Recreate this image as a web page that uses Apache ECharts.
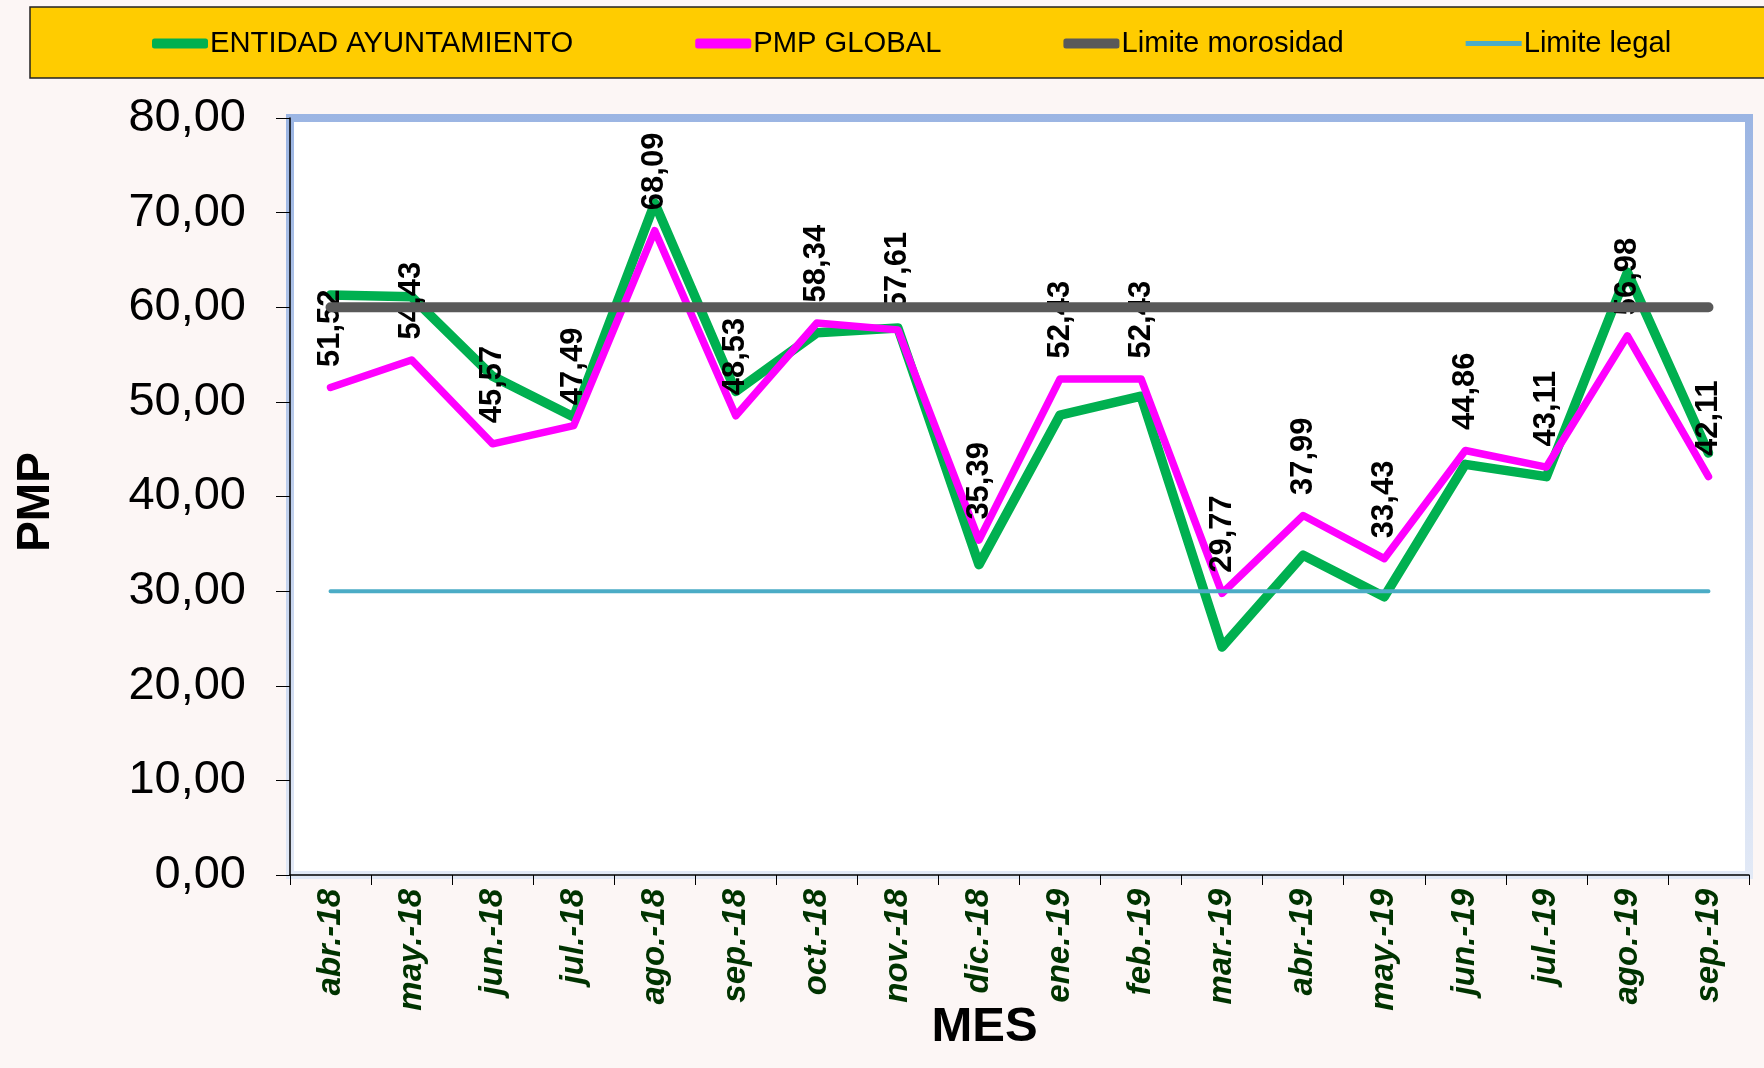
<!DOCTYPE html>
<html>
<head>
<meta charset="utf-8">
<style>
  html, body { margin: 0; padding: 0; background: #fcf6f5; }
  #chart { width: 1764px; height: 1068px; }
</style>
<script src="https://cdn.jsdelivr.net/npm/echarts@6/dist/echarts.min.js"></script>
</head>
<body>
<div id="chart"></div>
<script>
var months = ['abr.-18', 'may.-18', 'jun.-18', 'jul.-18', 'ago.-18', 'sep.-18', 'oct.-18', 'nov.-18', 'dic.-18',
  'ene.-19', 'feb.-19', 'mar.-19', 'abr.-19', 'may.-19', 'jun.-19', 'jul.-19', 'ago.-19', 'sep.-19'];

var entidad = [61.3, 61.1, 52.7, 48.4, 71.0, 51.1, 57.3, 57.8, 32.8, 48.6, 50.6, 24.1, 33.8, 29.4, 43.4, 42.1, 63.7, 44.6];
var pmpGlobal = [51.52, 54.43, 45.57, 47.49, 68.09, 48.53, 58.34, 57.61, 35.39, 52.43, 52.43, 29.77, 37.99, 33.43, 44.86, 43.11, 56.98, 42.11];
var limiteMorosidad = [60, 60, 60, 60, 60, 60, 60, 60, 60, 60, 60, 60, 60, 60, 60, 60, 60, 60];
var limiteLegal = [30, 30, 30, 30, 30, 30, 30, 30, 30, 30, 30, 30, 30, 30, 30, 30, 30, 30];

var seriesNames = ['ENTIDAD AYUNTAMIENTO', 'PMP GLOBAL', 'Limite morosidad', 'Limite legal'];

var font = '"Liberation Sans", Arial, sans-serif';

function comma(v) {
  return v.toFixed(2).replace('.', ',');
}

var chartDom = document.getElementById('chart');
var myChart = echarts.init(chartDom);

var option = {
  backgroundColor: '#fcf6f5',
  animation: false,
  graphic: [
    {
      type: 'rect',
      z: -1,
      shape: { x: 30, y: 7, width: 1760, height: 71 },
      style: { fill: '#ffcc00', stroke: '#222', lineWidth: 1.5 }
    }
  ],
  legend: {
    data: [
      { name: seriesNames[0], icon: 'roundRect' },
      { name: seriesNames[1], icon: 'roundRect' },
      { name: seriesNames[2], icon: 'roundRect' },
      { name: seriesNames[3], icon: 'path://M0,0 H56 V5 H0 Z' }
    ],
    left: 152,
    top: 29,
    padding: 0,
    itemWidth: 56,
    itemHeight: 10,
    itemGap: 122,
    textStyle: { fontFamily: font, fontSize: 29.2, color: '#000', padding: [0, 0, 0, -3] }
  },
  grid: {
    left: 290,
    right: 15,
    top: 118,
    bottom: 193,
    containLabel: false,
    outerBoundsMode: 'none',
    show: true,
    backgroundColor: '#fff',
    borderWidth: 8,
    borderColor: new echarts.graphic.LinearGradient(0, 0, 0, 1, [
      { offset: 0, color: '#9bb5e3' },
      { offset: 1, color: '#e2e9f6' }
    ])
  },
  xAxis: {
    type: 'category',
    data: months,
    boundaryGap: true,
    name: 'MES',
    nameLocation: 'middle',
    nameGap: 128,
    nameMoveOverlap: false,
    nameTextStyle: { fontFamily: font, fontSize: 49, fontWeight: 'bold', color: '#000', padding: [0, 70, 0, 0] },
    axisLine: { lineStyle: { color: '#000', width: 1.5 } },
    axisTick: { show: true, length: 10, lineStyle: { color: '#000' } },
    axisLabel: {
      rotate: 90,
      margin: 14,
      interval: 0,
      fontFamily: font,
      fontSize: 33,
      fontWeight: 'bold',
      fontStyle: 'italic',
      color: '#003300'
    },
    splitLine: { show: false }
  },
  yAxis: {
    type: 'value',
    min: 0,
    max: 80,
    interval: 10,
    name: 'PMP',
    nameLocation: 'middle',
    nameRotate: 90,
    nameGap: 231,
    nameMoveOverlap: false,
    nameTextStyle: { fontFamily: font, fontSize: 46, fontWeight: 'bold', color: '#000', padding: [0, 11, 0, 0] },
    axisLine: { show: true, lineStyle: { color: '#000', width: 1.5 } },
    axisTick: { show: true, length: 14, lineStyle: { color: '#000' } },
    axisLabel: {
      margin: 44,
      fontFamily: font,
      fontSize: 47,
      color: '#000',
      formatter: function (v) { return comma(v); }
    },
    splitLine: { show: false }
  },
  series: [
    {
      name: seriesNames[0],
      type: 'line',
      data: entidad,
      symbol: 'none',
      itemStyle: { color: '#00b050' },
      lineStyle: { color: '#00b050', width: 9.5, cap: 'round', join: 'round' },
      z: 2
    },
    {
      name: seriesNames[1],
      type: 'line',
      data: pmpGlobal,
      symbol: 'circle',
      symbolSize: 1,
      itemStyle: { color: '#ff00ff' },
      lineStyle: { color: '#ff00ff', width: 7.5, cap: 'round', join: 'round' },
      label: {
        show: true,
        position: 'top',
        distance: 20,
        rotate: 90,
        align: 'left',
        verticalAlign: 'middle',
        fontFamily: font,
        fontSize: 31,
        fontWeight: 'bold',
        color: '#000',
        formatter: function (p) { return comma(p.value); }
      },
      z: 3
    },
    {
      name: seriesNames[2],
      type: 'line',
      data: limiteMorosidad,
      symbol: 'none',
      itemStyle: { color: '#595959' },
      lineStyle: { color: '#595959', width: 10, cap: 'round' },
      z: 4
    },
    {
      name: seriesNames[3],
      type: 'line',
      data: limiteLegal,
      symbol: 'none',
      itemStyle: { color: '#4bacc6' },
      lineStyle: { color: '#4bacc6', width: 4, cap: 'round' },
      z: 4
    }
  ]
};

myChart.setOption(option);
window.addEventListener('resize', () => myChart.resize());
</script>
</body>
</html>
